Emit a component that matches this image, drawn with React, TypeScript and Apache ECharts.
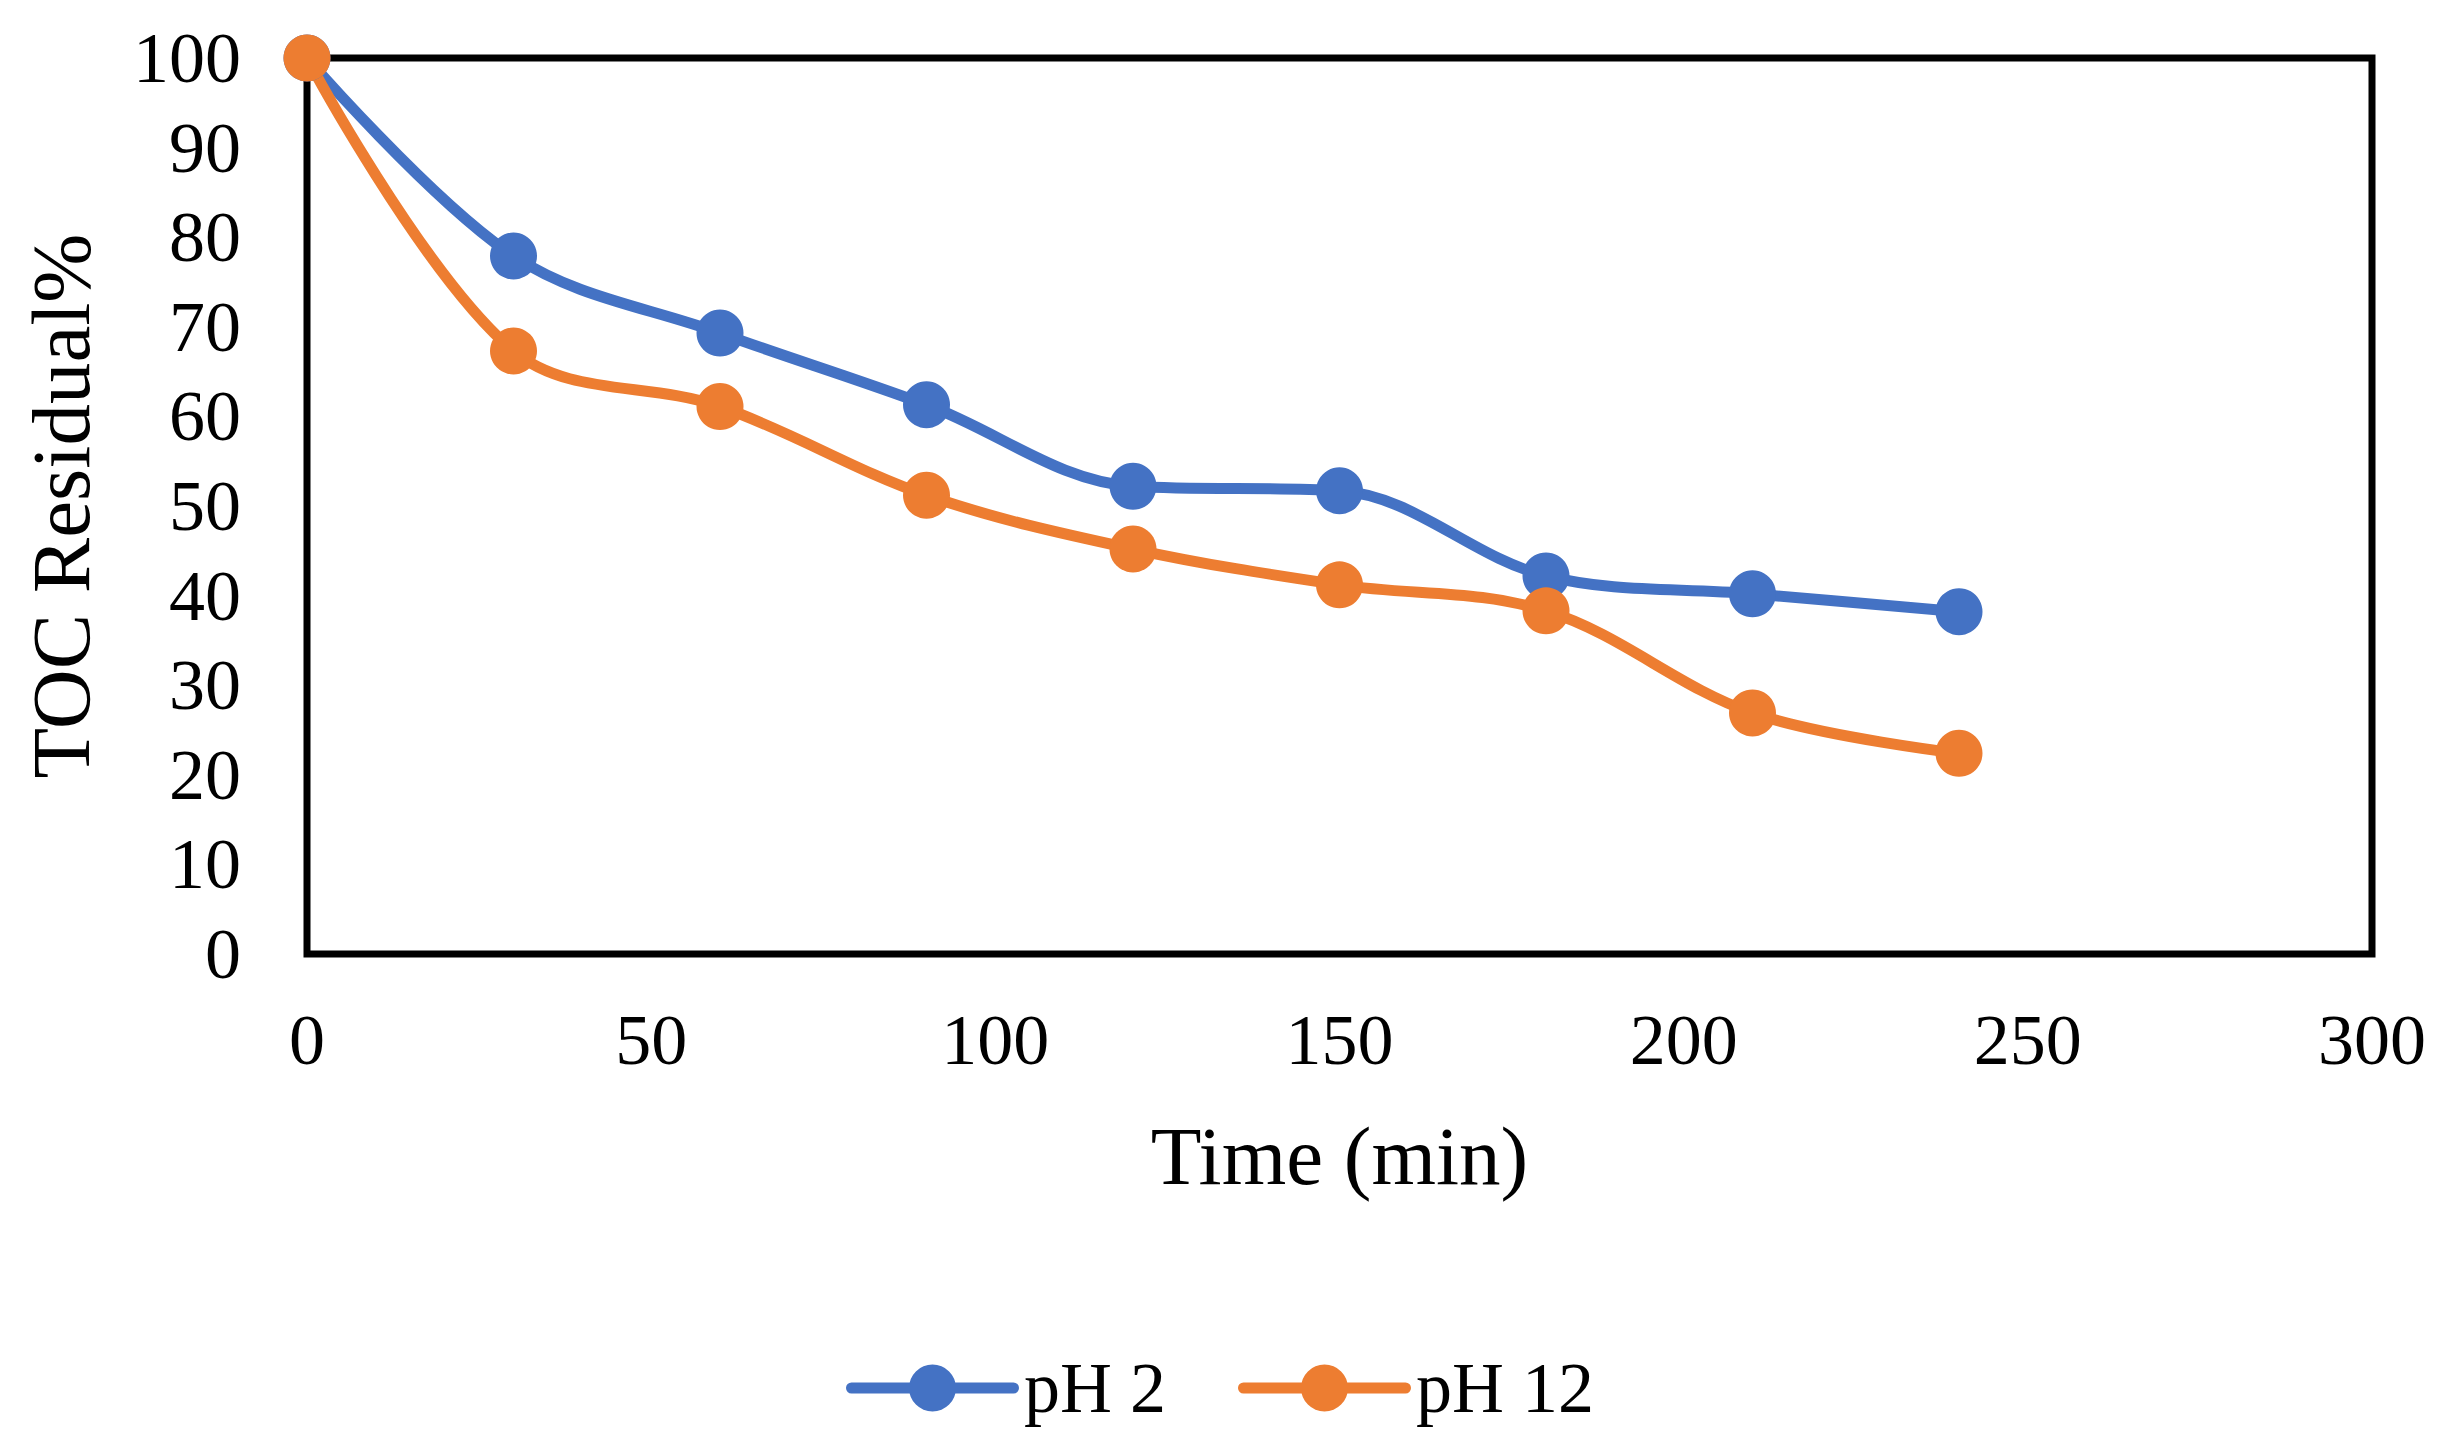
import React, { useEffect, useRef } from "react";
import * as echarts from "echarts";

const times = [0, 30, 60, 90, 120, 150, 180, 210, 240];
const ph2Values = [100, 77.9, 69.3, 61.3, 52.2, 51.7, 42.2, 40.2, 38.2];
const ph12Values = [100, 67.3, 61.1, 51.2, 45.2, 41.2, 38.3, 26.9, 22.4];
const seriesNames = ["pH 2", "pH 12"];
const xAxisTitle = "Time (min)";
const yAxisTitle = "TOC Residual%";

const FONT = "'Liberation Serif', 'Times New Roman', serif";

// legend icon: thick rounded line with a circle marker in the middle (173 x 47 box)
const LEGEND_ICON =
  "path://M5.5 18 L167.5 18 A5.5 5.5 0 0 1 167.5 29 L5.5 29 A5.5 5.5 0 0 1 5.5 18 Z " +
  "M63 23.5 A23.5 23.5 0 0 1 110 23.5 A23.5 23.5 0 0 1 63 23.5 Z";

export default function App() {
  const ref = useRef<HTMLDivElement>(null);
  useEffect(() => {
    if (!ref.current) return;
    const chart = echarts.init(ref.current, undefined, { renderer: "svg" });
    const mk = (vals: number[]) => times.map((t, i) => [t, vals[i]]);
    chart.setOption({
      animation: false,
      backgroundColor: "#ffffff",
      grid: {
        left: 307,
        right: 81,
        top: 58,
        bottom: 483,
        show: true,
        borderColor: "#000000",
        borderWidth: 7,
        containLabel: false,
      },
      legend: {
        left: 841,
        top: 1347,
        itemWidth: 173,
        itemHeight: 47,
        itemGap: 72,
        icon: LEGEND_ICON,
        textStyle: { fontFamily: FONT, fontSize: 72, color: "#000000" },
        data: seriesNames,
      },
      xAxis: {
        type: "value",
        min: 0,
        max: 300,
        interval: 50,
        name: xAxisTitle,
        nameLocation: "middle",
        nameGap: 160,
        nameTextStyle: { fontFamily: FONT, fontSize: 83, color: "#000000" },
        axisLine: { show: false },
        axisTick: { show: false },
        splitLine: { show: false },
        axisLabel: { fontFamily: FONT, fontSize: 72, color: "#000000", margin: 50 },
      },
      yAxis: {
        type: "value",
        min: 0,
        max: 100,
        interval: 10,
        name: yAxisTitle,
        nameLocation: "middle",
        nameGap: 205,
        nameTextStyle: { fontFamily: FONT, fontSize: 83, color: "#000000" },
        axisLine: { show: false },
        axisTick: { show: false },
        splitLine: { show: false },
        axisLabel: { fontFamily: FONT, fontSize: 72, color: "#000000", margin: 66 },
      },
      series: [
        {
          name: seriesNames[0],
          type: "line",
          data: mk(ph2Values),
          smooth: 0.35,
          symbol: "circle",
          symbolSize: 47,
          color: "#4472C4",
          lineStyle: { width: 11, color: "#4472C4" },
          itemStyle: { color: "#4472C4" },
        },
        {
          name: seriesNames[1],
          type: "line",
          data: mk(ph12Values),
          smooth: 0.35,
          symbol: "circle",
          symbolSize: 47,
          color: "#ED7D31",
          lineStyle: { width: 11, color: "#ED7D31" },
          itemStyle: { color: "#ED7D31" },
        },
      ],
    });
    return () => chart.dispose();
  }, []);
  return (
    <div
      ref={ref}
      style={{ position: "fixed", left: 0, top: 0, width: 2453, height: 1437, background: "#fff" }}
    />
  );
}
